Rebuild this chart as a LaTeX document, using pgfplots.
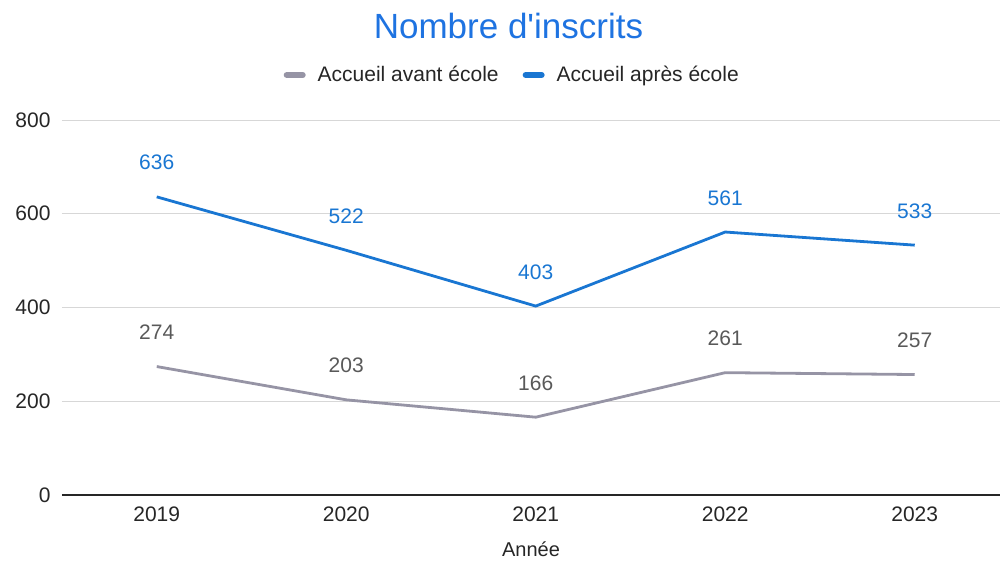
\documentclass[border=0pt]{standalone}
\usepackage{pgfplots}
\pgfplotsset{compat=1.18}
\usepackage{fontspec}
\setmainfont{Liberation Sans}
\definecolor{cblue}{RGB}{25,118,210}
\definecolor{cgray}{RGB}{150,148,165}
\definecolor{ctitle}{RGB}{30,115,225}
\definecolor{cgrid}{RGB}{215,215,215}
\begin{document}
\begin{tikzpicture}
\useasboundingbox (-62pt,-72pt) rectangle (940pt,495pt);
\begin{axis}[
  at={(0pt,0pt)}, anchor=south west,
  scale only axis,
  width=938pt, height=375pt,
  xmin=-0.5, xmax=4.45,
  ymin=0, ymax=800,
  xtick={0,1,2,3,4},
  xticklabels={2019,2020,2021,2022,2023},
  ytick={0,200,400,600,800},
  axis x line=bottom, axis y line=left,
  y axis line style={draw=none},
  x axis line style={line width=1.6pt, black!85, -},
  ymajorgrids, grid style={cgrid, line width=0.8pt},
  major tick length=0pt,
  tick label style={font=\fontsize{21}{24}\selectfont, text=black!85},
  /pgf/number format/assume math mode=true,
  yticklabel style={xshift=-8pt},
  xticklabel style={yshift=-8pt},
  xlabel={Année},
  xlabel style={font=\fontsize{20}{24}\selectfont, text=black!85, yshift=-17pt, inner sep=0pt},
  title={Nombre d'inscrits},
  title style={font=\addfontfeatures{Ligatures=TeXOff}\fontsize{35}{40}\selectfont, text=ctitle, at={(0.476,1)}, yshift=75pt, anchor=base},
  legend columns=2,
  legend style={draw=none, at={(0.48,1)}, anchor=base, yshift=45pt,
    font=\fontsize{21}{24}\selectfont, text=black!85,
    /tikz/every odd column/.append style={column sep=10pt},
    /tikz/every even column/.append style={column sep=22pt}},
  legend image code/.code={\draw[line width=6pt, line cap=round, #1] (0pt,0pt) -- (16pt,0pt);},
  nodes near coords,
  every node near coord/.append style={font=\fontsize{21}{24}\selectfont, yshift=22pt},
  clip=false,
]
\addplot[cgray, line width=2.8pt, mark=none, nodes near coords style={text=black!65}] coordinates {(0,274) (1,203) (2,166) (3,261) (4,257)};
\addlegendentry{Accueil avant école}
\addplot[cblue, line width=2.8pt, mark=none, nodes near coords style={text=cblue}] coordinates {(0,636) (1,522) (2,403) (3,561) (4,533)};
\addlegendentry{Accueil après école}
\end{axis}
\end{tikzpicture}
\end{document}
